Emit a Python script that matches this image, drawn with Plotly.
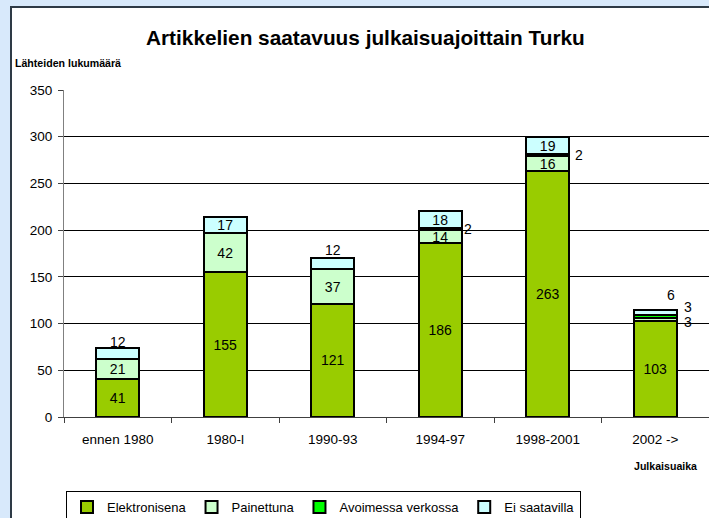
import plotly.graph_objects as go

categories = ["ennen 1980", "1980-l", "1990-93", "1994-97", "1998-2001", "2002 ->"]
elektronisena = [41, 155, 121, 186, 263, 103]
painettuna = [21, 42, 37, 14, 16, 3]
avoimessa = [None, None, None, 2, 2, 3]
ei_saatavilla = [12, 17, 12, 18, 19, 6]
y_ticks = [0, 50, 100, 150, 200, 250, 300, 350]

series = [
    ("Elektronisena", elektronisena, "#99CC00"),
    ("Painettuna", painettuna, "#CCFFCC"),
    ("Avoimessa verkossa", avoimessa, "#00FF00"),
    ("Ei saatavilla", ei_saatavilla, "#CCFFFF"),
]

# labels drawn outside the segment: (category index, series index) -> (xshift, yshift)
outside = {
    (0, 3): (0, 11),
    (2, 3): (0, 14),
    (3, 2): (28, 0),
    (4, 2): (31, 0),
    (5, 1): (33, -3),
    (5, 2): (33, 10),
    (5, 3): (16, 17),
}

FONT = "Liberation Sans, Arial, sans-serif"
W, H = 709, 518
L, R, T, B = 64, 0, 90, 101
PW, PH = W - L - R, H - T - B


def px_x(px):
    return (px - L) / PW


def px_y(py):
    return (H - B - py) / PH


fig = go.Figure()
for si, (name, vals, color) in enumerate(series):
    texts = []
    for ci, v in enumerate(vals):
        if v is None or (ci, si) in outside:
            texts.append("")
        else:
            texts.append(str(v))
    fig.add_trace(go.Bar(
        name=name, x=categories, y=vals, text=texts,
        textposition="inside", insidetextanchor="middle", textangle=0,
        insidetextfont=dict(family=FONT, size=14, color="black"),
        marker=dict(color=color, line=dict(color="black", width=2)),
        width=0.4, hoverinfo="skip",
    ))

annotations = []
for (ci, si), (xs, ys) in outside.items():
    base = 0
    for sj in range(si):
        v = series[sj][1][ci]
        base += v if v is not None else 0
    v = series[si][1][ci]
    annotations.append(dict(
        x=categories[ci], y=base + v / 2, xref="x", yref="y", text=str(v),
        showarrow=False, xanchor="center", yanchor="middle",
        xshift=xs, yshift=ys, font=dict(family=FONT, size=14, color="black"),
    ))

annotations += [
    dict(x=px_x(365), y=px_y(38), xref="paper", yref="paper",
         text="<b>Artikkelien saatavuus julkaisuajoittain Turku</b>", showarrow=False,
         xanchor="center", yanchor="middle", font=dict(family=FONT, size=20.8, color="black")),
    dict(x=px_x(13), y=px_y(63), xref="paper", yref="paper",
         text="<b>Lähteiden lukumäärä</b>", showarrow=False,
         xanchor="left", yanchor="middle", font=dict(family=FONT, size=10.6, color="black")),
    dict(x=px_x(665), y=px_y(466), xref="paper", yref="paper",
         text="<b>Julkaisuaika</b>", showarrow=False,
         xanchor="center", yanchor="middle", font=dict(family=FONT, size=10.6, color="black")),
]

shapes = [
    dict(type="rect", xref="paper", yref="paper", layer="below",
         x0=px_x(11), x1=px_x(W + 20), y0=px_y(H + 20), y1=px_y(7),
         fillcolor="white", line=dict(color="#2E3A46", width=2)),
]

fig.update_layout(
    width=W, height=H,
    margin=dict(l=L, r=R, t=T, b=B, pad=0, autoexpand=False),
    paper_bgcolor="#D8E9FB", plot_bgcolor="white",
    barmode="stack", bargap=0.6,
    font=dict(family=FONT, size=13, color="black"),
    showlegend=True,
    legend=dict(orientation="h", x=px_x(66), y=px_y(491), xanchor="left", yanchor="top",
                traceorder="normal", bordercolor="black", borderwidth=1, bgcolor="white",
                font=dict(family=FONT, size=13, color="black")),
    uniformtext=dict(minsize=14, mode="show"),
    annotations=annotations,
    shapes=shapes,
)
fig.update_xaxes(type="category", showline=True, linecolor="#404040", linewidth=1,
                 ticks="outside", tickson="boundaries", ticklen=5, tickcolor="#404040",
                 ticklabelstandoff=10,
                 showgrid=False, tickfont=dict(family=FONT, size=13.5, color="black"))
fig.update_yaxes(range=[0, 350], tickvals=y_ticks, showline=True, linecolor="#808080",
                 linewidth=1, ticks="outside", ticklen=5, tickcolor="#404040",
                 ticklabelstandoff=3,
                 showgrid=True, gridcolor="black", gridwidth=1, zeroline=False,
                 tickfont=dict(family=FONT, size=13.5, color="black"))

fig.write_html(
    "out.html",
    config={"displayModeBar": False},
    post_script="document.body.style.margin='0';document.body.style.overflow='hidden';",
)
